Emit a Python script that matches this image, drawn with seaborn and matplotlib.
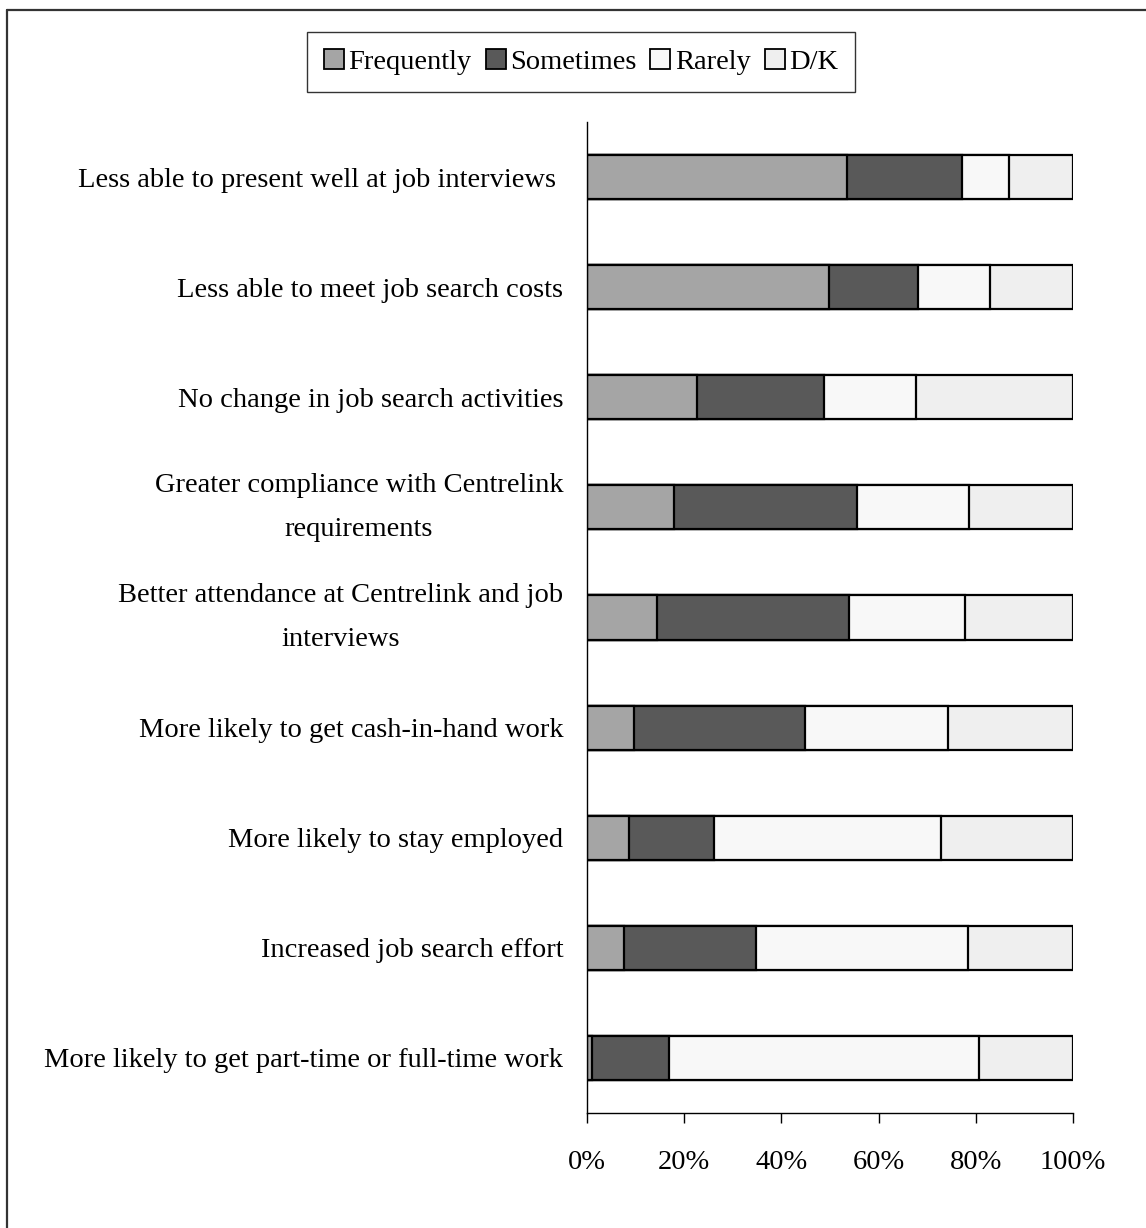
import matplotlib
matplotlib.use("Agg")
import matplotlib.pyplot as plt
from matplotlib.patches import Patch
from matplotlib.lines import Line2D
from matplotlib.ticker import PercentFormatter
import numpy as np
import pandas as pd
import seaborn as sns

# Survey items (top to bottom) and share of responses per category (%)
items = [
    "Less able to present well at job interviews ",
    "Less able to meet job search costs",
    "No change in job search activities",
    "Greater compliance with Centrelink\nrequirements",
    "Better attendance at Centrelink and job\ninterviews",
    "More likely to get cash-in-hand work",
    "More likely to stay employed",
    "Increased job search effort",
    "More likely to get part-time or full-time work",
]
frequently = [53.6, 49.7, 22.7, 17.8, 14.4, 9.6, 8.6, 7.6, 1.0]
sometimes = [23.6, 18.4, 26.1, 37.7, 39.6, 35.3, 17.5, 27.2, 15.9]
rarely = [9.6, 14.9, 18.8, 23.1, 23.7, 29.4, 46.8, 43.5, 63.8]
dont_know = [13.2, 17.0, 32.4, 21.4, 22.3, 25.7, 27.1, 21.7, 19.3]

series_names = ["Frequently", "Sometimes", "Rarely", "D/K"]
series_colors = ["#a5a5a5", "#595959", "#f8f8f8", "#efefef"]

sns.set_theme(style="white")
plt.rcParams["font.family"] = ["Liberation Serif", "DejaVu Serif"]
plt.rcParams["text.color"] = "black"
plt.rcParams["xtick.color"] = "black"
plt.rcParams["ytick.color"] = "black"
plt.rcParams["xtick.labelcolor"] = "black"
plt.rcParams["ytick.labelcolor"] = "black"
FS = 20.5

df = pd.DataFrame({
    "item": items,
    "Frequently": frequently,
    "Sometimes": sometimes,
    "Rarely": rarely,
    "D/K": dont_know,
})
# running totals so each segment can be drawn as an overlaid bar
cum = df[series_names].cumsum(axis=1)

W, H = 1146, 1228
fig = plt.figure(figsize=(W / 100, H / 100), dpi=100)
ax = fig.add_axes([587 / W, 1 - 1113 / H, (1073 - 587) / W, (1113 - 122) / H])

for name, color in reversed(list(zip(series_names, series_colors))):
    sns.barplot(
        x=cum[name], y=df["item"], orient="h", color=color, width=0.4,
        edgecolor="black", linewidth=1.6, saturation=1, ax=ax, errorbar=None,
    )

ax.set_xlim(0, 100)
ax.set_ylim(len(items) - 0.5, -0.5)
ax.set_xticks(np.arange(0, 101, 20))
ax.xaxis.set_major_formatter(PercentFormatter(decimals=0))
ax.set_xlabel("")
ax.set_ylabel("")

for s in ["top", "right"]:
    ax.spines[s].set_visible(False)
for s in ["left", "bottom"]:
    ax.spines[s].set_color("black")
    ax.spines[s].set_linewidth(1.0)

ax.tick_params(axis="x", direction="out", length=7.5, width=1.0, color="black",
               pad=19, labelsize=FS, bottom=True, labelcolor="black")
ax.tick_params(axis="y", length=0, pad=17, labelsize=FS, labelcolor="black")
for lbl in ax.get_yticklabels():
    lbl.set_multialignment("center")
    lbl.set_linespacing(2.0)
    if "\n" in lbl.get_text():
        lbl.set_verticalalignment("center")

handles = [Patch(facecolor=c, edgecolor="black", linewidth=1.3, label=n)
           for n, c in zip(series_names, series_colors)]
leg = fig.legend(
    handles=handles, loc="upper center", bbox_to_anchor=(581 / W, 1 - 32 / H),
    ncol=4, fontsize=FS, frameon=True, fancybox=False,
    handlelength=0.7, handleheight=0.7, handletextpad=0.15,
    columnspacing=0.5, borderpad=0.6, borderaxespad=0,
)
leg.get_frame().set_edgecolor("black")
leg.get_frame().set_linewidth(1.0)
for t in leg.get_texts():
    t.set_color("black")

# figure outline along the top and left edges
fig.add_artist(Line2D([7 / W, 7 / W], [0, 1 - 10 / H], transform=fig.transFigure,
                      color="#333333", linewidth=1.6))
fig.add_artist(Line2D([7 / W, 1], [1 - 10 / H, 1 - 10 / H], transform=fig.transFigure,
                      color="#333333", linewidth=1.6))

fig.savefig("out.png", dpi=100)
